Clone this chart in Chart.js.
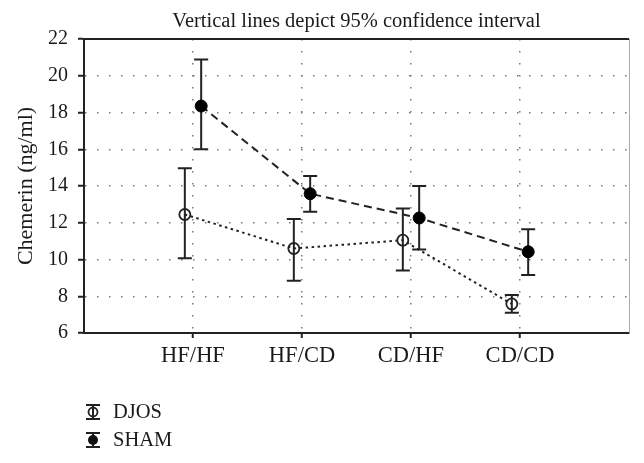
<!DOCTYPE html>
<html>
<head>
<meta charset="utf-8">
<script src="https://cdn.jsdelivr.net/npm/chart.js@4/dist/chart.umd.min.js"></script>
<style>
  html, body { margin: 0; padding: 0; background: #fff; }
  #wrap { position: relative; width: 644px; height: 463px; }
  #c { position: absolute; left: 0; top: 0; }
  .leg { position: absolute; left: 84px; font-family: "Liberation Serif", "DejaVu Serif", serif; font-size: 20.5px; color: #1a1a1a; display: flex; align-items: center; }
  .leg svg { width: 18px; height: 20px; margin-right: 11px; }
</style>
</head>
<body>
<div id="wrap">
  <canvas id="c" width="644" height="463"></canvas>
  <div class="leg" style="top:400px"><svg viewBox="0 0 18 20"><line x1="2" y1="3" x2="16" y2="3" stroke="#222" stroke-width="2"/><line x1="2" y1="17" x2="16" y2="17" stroke="#222" stroke-width="2"/><line x1="9" y1="3" x2="9" y2="17" stroke="#222" stroke-width="2"/><circle cx="9" cy="10" r="4.5" fill="none" stroke="#222" stroke-width="1.8"/></svg><span>DJOS</span></div>
  <div class="leg" style="top:428px"><svg viewBox="0 0 18 20"><line x1="2" y1="3" x2="16" y2="3" stroke="#222" stroke-width="2"/><line x1="2" y1="17" x2="16" y2="17" stroke="#222" stroke-width="2"/><line x1="9" y1="3" x2="9" y2="17" stroke="#222" stroke-width="2"/><circle cx="9" cy="10" r="5" fill="#111"/></svg><span>SHAM</span></div>
</div>
<script>
const categories = ['HF/HF', 'HF/CD', 'CD/HF', 'CD/CD'];
const djosMean  = [12.45, 10.60, 11.05, 7.58];
const djosLower = [10.07, 8.85, 9.40, 7.10];
const djosUpper = [14.96, 12.20, 12.77, 8.07];
const shamMean  = [18.35, 13.58, 12.26, 10.42];
const shamLower = [16.00, 12.60, 10.55, 9.16];
const shamUpper = [20.88, 14.54, 14.00, 11.64];
const yTicks = [6, 8, 10, 12, 14, 16, 18, 20, 22];
const titleText = 'Vertical lines depict 95% confidence interval';
const yTitle = 'Chemerin (ng/ml)';

const OFFSET = 0.075;
const FONT = '"Liberation Serif", "DejaVu Serif", serif';
const INK = '#222';

function pts(mean, lower, upper, shift) {
  return mean.map((v, i) => ({ x: i + 1 + shift, y: v, lo: lower[i], hi: upper[i] }));
}

const errorBars = {
  id: 'errorBars',
  beforeDatasetsDraw(chart) {
    const { ctx, scales: { x, y } } = chart;
    ctx.save();
    ctx.strokeStyle = INK;
    ctx.lineWidth = 2;
    chart.data.datasets.forEach(ds => {
      ds.data.forEach(p => {
        const px = x.getPixelForValue(p.x);
        const yl = y.getPixelForValue(p.lo);
        const yh = y.getPixelForValue(p.hi);
        ctx.beginPath();
        ctx.moveTo(px, yl); ctx.lineTo(px, yh);
        ctx.moveTo(px - 7, yl); ctx.lineTo(px + 7, yl);
        ctx.moveTo(px - 7, yh); ctx.lineTo(px + 7, yh);
        ctx.stroke();
      });
    });
    ctx.restore();
  }
};

const frame = {
  id: 'frame',
  afterDraw(chart) {
    const { ctx, chartArea: a } = chart;
    ctx.save();
    ctx.strokeStyle = INK;
    ctx.lineWidth = 2;
    ctx.beginPath();
    ctx.moveTo(a.left - 1, a.top); ctx.lineTo(a.right, a.top);
    ctx.stroke();
    ctx.strokeStyle = '#aaa';
    ctx.lineWidth = 1;
    ctx.beginPath();
    ctx.moveTo(a.right + 0.5, a.top); ctx.lineTo(a.right + 0.5, a.bottom);
    ctx.stroke();
    ctx.restore();
  }
};

new Chart(document.getElementById('c'), {
  type: 'scatter',
  data: {
    datasets: [
      {
        label: 'DJOS',
        data: pts(djosMean, djosLower, djosUpper, -OFFSET),
        showLine: true,
        borderColor: INK,
        borderWidth: 2,
        borderDash: [2.5, 3.5],
        pointRadius: 5.5,
        pointBorderWidth: 1.8,
        pointBorderColor: INK,
        pointBackgroundColor: 'rgba(0,0,0,0)'
      },
      {
        label: 'SHAM',
        data: pts(shamMean, shamLower, shamUpper, OFFSET),
        showLine: true,
        borderColor: INK,
        borderWidth: 2,
        borderDash: [8, 5],
        pointRadius: 6,
        pointBorderWidth: 1,
        pointBorderColor: '#000',
        pointBackgroundColor: '#000'
      }
    ]
  },
  options: {
    responsive: false,
    animation: false,
    layout: { padding: { left: 0, right: 15, top: 0, bottom: 90 } },
    plugins: {
      legend: { display: false },
      tooltip: { enabled: false },
      title: {
        display: true,
        text: titleText,
        fullSize: false,
        color: '#1a1a1a',
        font: { family: FONT, size: 20.5, weight: 'normal' },
        padding: { top: 9, bottom: 5.4 }
      }
    },
    scales: {
      x: {
        type: 'linear',
        min: 0,
        max: 5,
        afterBuildTicks: s => { s.ticks = categories.map((c, i) => ({ value: i + 1 })); },
        afterFit: s => { s.height = 40; },
        ticks: {
          callback: v => categories[v - 1] || '',
          color: '#1a1a1a',
          font: { family: FONT, size: 22.5 },
          padding: 5,
          maxRotation: 0,
          autoSkip: false
        },
        grid: {
          color: '#777',
          lineWidth: 1.5,
          tickLength: 5,
          tickColor: INK,
          tickWidth: 2
        },
        border: { display: true, color: INK, width: 2, dash: [1.5, 10.5] }
      },
      y: {
        min: 6,
        max: 22,
        afterBuildTicks: s => { s.ticks = yTicks.map(v => ({ value: v })); },
        afterFit: s => { s.width = 84; },
        ticks: {
          color: '#1a1a1a',
          font: { family: FONT, size: 20 },
          padding: 10
        },
        grid: {
          color: ctx => (ctx.tick && (ctx.tick.value === 22 || ctx.tick.value === 6)) ? 'rgba(0,0,0,0)' : '#777',
          lineWidth: 1.5,
          tickLength: 6,
          tickColor: INK,
          tickWidth: 2
        },
        border: { display: true, color: INK, width: 2, dash: [1.5, 10.5] },
        title: {
          display: true,
          text: yTitle,
          color: '#1a1a1a',
          font: { family: FONT, size: 22 },
          padding: { top: 12.8, bottom: 0 }
        }
      }
    }
  },
  plugins: [errorBars, frame]
});
</script>
</body>
</html>
